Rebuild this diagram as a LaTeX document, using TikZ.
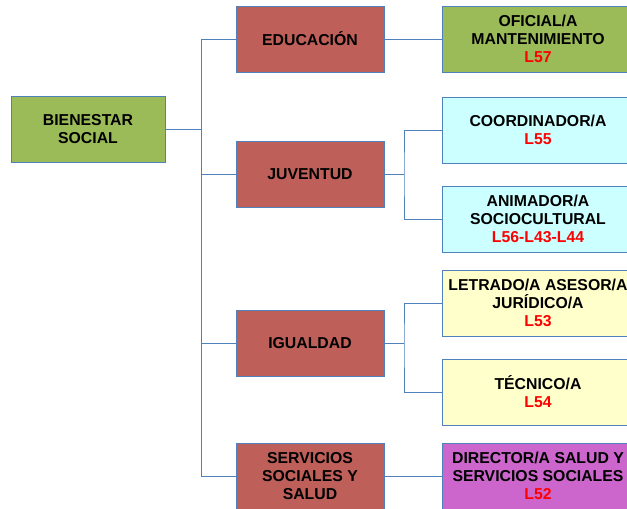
\documentclass[tikz,border=0pt]{standalone}
\usepackage{fontspec}
\setmainfont{Liberation Sans}
\definecolor{lineblue}{HTML}{4F81BD}
\definecolor{gfill}{HTML}{9BBB59}
\definecolor{rfill}{HTML}{BE5F5A}
\definecolor{cfill}{HTML}{CCFFFF}
\definecolor{yfill}{HTML}{FFFFCC}
\definecolor{pfill}{HTML}{CC66CC}
\definecolor{lred}{HTML}{FF0000}
\tikzset{
  box/.style={draw=lineblue, line width=0.9pt, align=center, inner sep=0pt,
    font=\fontsize{15.8}{18}\selectfont\bfseries, minimum height=66pt},
  rootbox/.style={box, fill=gfill, minimum width=154pt},
  midbox/.style={box, fill=rfill, minimum width=148pt},
  leafbox/.style={box, minimum width=192pt},
  conn/.style={draw=lineblue, line width=0.9pt},
}
\newcommand{\lcode}[1]{\\\textcolor{lred}{#1}}
\begin{document}
\begin{tikzpicture}[x=1pt,y=-1pt]
\useasboundingbox (0,0) rectangle (627,509);
\clip (0,0) rectangle (627,509);
\fill[white] (0,0) rectangle (627,509);
% root
\node[rootbox] (root) at (88,129) {BIENESTAR\\SOCIAL};
% middle
\node[midbox] (edu) at (310,39) {EDUCACIÓN};
\node[midbox] (juv) at (310,174) {JUVENTUD};
\node[midbox] (igu) at (310,343) {IGUALDAD};
\node[midbox] (ser) at (310,476) {SERVICIOS\\SOCIALES Y\\SALUD};
% leaves
\node[leafbox, fill=gfill] (ofi) at (538,39) {OFICIAL/A\\MANTENIMIENTO\lcode{L57}};
\node[leafbox, fill=cfill] (coo) at (538,130) {COORDINADOR/A\lcode{L55}};
\node[leafbox, fill=cfill] (ani) at (538,219) {ANIMADOR/A\\SOCIOCULTURAL\lcode{L56-L43-L44}};
\node[leafbox, fill=yfill] (let) at (538,303) {LETRADO/A ASESOR/A\\JURÍDICO/A\lcode{L53}};
\node[leafbox, fill=yfill] (tec) at (538,392) {TÉCNICO/A\lcode{L54}};
\node[leafbox, fill=pfill] (dir) at (538,476) {DIRECTOR/A SALUD Y\\SERVICIOS SOCIALES\lcode{L52}};
% trunk
\coordinate (tr) at (201,129);
\draw[conn] (root.east) -- (tr);
\draw[conn] (edu.west) -| (tr);
\draw[conn] (juv.west) -| (tr);
\draw[conn] (igu.west) -| (tr);
\draw[conn] (ser.west) -| (tr);
\draw[conn] (edu.east) -- (ofi.west);
\draw[conn] (ser.east) -- (dir.west);
\coordinate (jb) at (404,174);
\draw[conn] (juv.east) -- (jb);
\draw[conn] (coo.west) -| (jb) |- (ani.west);
\coordinate (ib) at (404,343);
\draw[conn] (igu.east) -- (ib);
\draw[conn] (let.west) -| (ib) |- (tec.west);
\end{tikzpicture}
\end{document}
